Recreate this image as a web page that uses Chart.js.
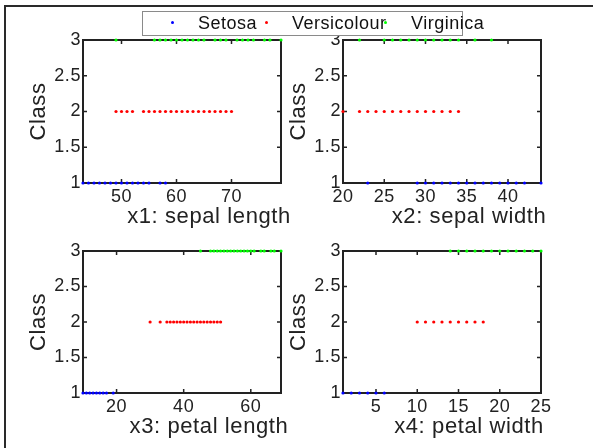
<!DOCTYPE html>
<html><head><meta charset="utf-8">
<script src="https://cdn.jsdelivr.net/npm/chart.js@4.4.0/dist/chart.umd.min.js"></script>
<style>
html,body{margin:0;padding:0;background:#fff;}
#wrap{position:relative;width:593px;height:448px;overflow:hidden;background:#fff;font-family:"Liberation Sans",Arial,sans-serif;}
#frame{position:absolute;left:4px;top:5px;width:600px;height:460px;border-left:2px solid #2a2a2a;border-top:2px solid #2a2a2a;}
canvas{position:absolute;left:0;top:0;}
#legendBox{position:absolute;left:142px;top:11px;width:319px;height:23px;border:1px solid #8a8a8a;background:#fff;z-index:5;}
.lt{position:absolute;top:11px;height:24px;line-height:24px;font-size:18px;letter-spacing:0.5px;color:#111;z-index:6;white-space:nowrap;}
.ld{position:absolute;top:21px;width:3px;height:3px;border-radius:50%;z-index:7;}
</style>
</head><body>
<div id="wrap">
  <div id="frame"></div>
  <canvas id="c1" width="593" height="448"></canvas>
  <canvas id="c2" width="593" height="448"></canvas>
  <canvas id="c3" width="593" height="448"></canvas>
  <canvas id="c4" width="593" height="448"></canvas>
  <div id="legendBox"></div>
  <div id="legendItems"></div>
</div>
<script>
// ---- data (Iris, values in mm) ----
const classNames = ['Setosa', 'Versicolour', 'Virginica'];
const classValues = [1, 2, 3];
const featureLabels = ['x1: sepal length', 'x2: sepal width', 'x3: petal length', 'x4: petal width'];
const yTickValues = [1, 1.5, 2, 2.5, 3];
const x1Ticks = [50, 60, 70];
const x2Ticks = [20, 25, 30, 35, 40];
const x3Ticks = [20, 40, 60];
const x4Ticks = [5, 10, 15, 20, 25];
const x1Range = [43, 79];
const x2Range = [20, 44];
const x3Range = [10, 69];
const x4Range = [1, 25];

const setosaSepalLength = [43, 44, 45, 46, 47, 48, 49, 50, 51, 52, 53, 54, 55, 57, 58];
const versicolourSepalLength = [49, 50, 51, 52, 54, 55, 56, 57, 58, 59, 60, 61, 62, 63, 64, 65, 66, 67, 68, 69, 70];
const virginicaSepalLength = [49, 56, 57, 58, 59, 60, 61, 62, 63, 64, 65, 67, 68, 69, 71, 72, 73, 74, 76, 77, 79];

const setosaSepalWidth = [23, 29, 30, 31, 32, 33, 34, 35, 36, 37, 38, 39, 40, 41, 42, 44];
const versicolourSepalWidth = [20, 22, 23, 24, 25, 26, 27, 28, 29, 30, 31, 32, 33, 34];
const virginicaSepalWidth = [22, 25, 26, 27, 28, 29, 30, 31, 32, 33, 34, 36, 38];

const setosaPetalLength = [10, 11, 12, 13, 14, 15, 16, 17, 19];
const versicolourPetalLength = [30, 33, 35, 36, 37, 38, 39, 40, 41, 42, 43, 44, 45, 46, 47, 48, 49, 50, 51];
const virginicaPetalLength = [45, 48, 49, 50, 51, 52, 53, 54, 55, 56, 57, 58, 59, 60, 61, 63, 64, 66, 67, 69];

const setosaPetalWidth = [1, 2, 3, 4, 5, 6];
const versicolourPetalWidth = [10, 11, 12, 13, 14, 15, 16, 17, 18];
const virginicaPetalWidth = [14, 15, 16, 17, 18, 19, 20, 21, 22, 23, 24, 25];

// ---- styles ----
const classColors = ['#0000ff', '#ff0000', '#00ff00'];
const ink = '#222222';
const FONT = '"Liberation Sans", Arial, Helvetica, sans-serif';
Chart.defaults.font.family = FONT;

const mlPlugin = {
  id: 'mlbox',
  beforeDraw(chart) {
    try { chart.ctx.letterSpacing = '0.6px'; } catch (e) {}
  },
  beforeDatasetsDraw(chart) {
    const { ctx, chartArea: a, scales: { x, y } } = chart;
    ctx.save();
    ctx.strokeStyle = ink;
    ctx.lineWidth = 1.5;
    const tl = 4;
    ctx.beginPath();
    x.ticks.forEach(t => {
      const px = x.getPixelForValue(t.value);
      ctx.moveTo(px, a.bottom); ctx.lineTo(px, a.bottom - tl);
      ctx.moveTo(px, a.top); ctx.lineTo(px, a.top + tl);
    });
    y.ticks.forEach(t => {
      const py = y.getPixelForValue(t.value);
      ctx.moveTo(a.left, py); ctx.lineTo(a.left + tl, py);
      ctx.moveTo(a.right, py); ctx.lineTo(a.right - tl, py);
    });
    ctx.stroke();
    ctx.lineWidth = 2;
    ctx.strokeRect(a.left, a.top, a.right - a.left, a.bottom - a.top);
    ctx.restore();
  },
  afterDraw(chart, args, opts) {
    const { ctx, chartArea: a } = chart;
    ctx.save();
    try { ctx.letterSpacing = '0.6px'; } catch (e) {}
    ctx.font = '22px ' + FONT;
    ctx.fillStyle = ink;
    ctx.textAlign = 'center';
    ctx.textBaseline = 'middle';
    ctx.fillText(opts.text, a.left + opts.dx, a.bottom + opts.dy);
    ctx.restore();
  }
};

const YW = 70, XH = 30, W = 593, H = 448;

function makePlot(id, area, range, xTicks, seriesList, label) {
  const datasets = seriesList.map((vals, i) => ({
    label: classNames[i],
    data: vals.map(v => ({ x: v, y: classValues[i] })),
    backgroundColor: classColors[i],
    borderColor: classColors[i],
    borderWidth: 0,
    pointRadius: 1.6,
    pointHoverRadius: 1.6,
    clip: false
  }));
  return new Chart(document.getElementById(id), {
    type: 'scatter',
    data: { datasets },
    plugins: [mlPlugin],
    options: {
      responsive: false,
      animation: false,
      devicePixelRatio: 1,
      events: [],
      layout: { padding: { left: area.L - YW, top: area.T, right: W - area.R, bottom: H - area.B - XH } },
      plugins: {
        legend: { display: false },
        tooltip: { enabled: false },
        mlbox: { text: label, dx: 126, dy: 34 }
      },
      scales: {
        x: {
          type: 'linear', min: range[0], max: range[1],
          afterBuildTicks: s => { s.ticks = xTicks.map(v => ({ value: v })); },
          afterFit: s => { s.height = XH; },
          grid: { display: false, drawTicks: false, tickLength: 0 },
          border: { display: false },
          ticks: { padding: 3, color: ink, font: { size: 18 }, maxRotation: 0, autoSkip: false, callback: v => String(v) }
        },
        y: {
          type: 'linear', min: 1, max: 3,
          afterBuildTicks: s => { s.ticks = yTickValues.map(v => ({ value: v })); },
          afterFit: s => { s.width = YW; },
          grid: { display: false, drawTicks: false, tickLength: 0 },
          border: { display: false },
          ticks: { padding: 2, color: ink, font: { size: 18 }, autoSkip: false, callback: v => String(v) },
          title: { display: true, text: 'Class', color: ink, font: { size: 22 }, padding: { top: 13, bottom: 0 } }
        }
      }
    }
  });
}

makePlot('c1', { L: 83, R: 281, T: 40, B: 183 }, x1Range, x1Ticks,
  [setosaSepalLength, versicolourSepalLength, virginicaSepalLength], featureLabels[0]);
makePlot('c2', { L: 343, R: 541, T: 40, B: 183 }, x2Range, x2Ticks,
  [setosaSepalWidth, versicolourSepalWidth, virginicaSepalWidth], featureLabels[1]);
makePlot('c3', { L: 83, R: 281, T: 251, B: 393 }, x3Range, x3Ticks,
  [setosaPetalLength, versicolourPetalLength, virginicaPetalLength], featureLabels[2]);
makePlot('c4', { L: 343, R: 541, T: 251, B: 393 }, x4Range, x4Ticks,
  [setosaPetalWidth, versicolourPetalWidth, virginicaPetalWidth], featureLabels[3]);

// ---- legend (HTML, on top like MATLAB) ----
const legendDotX = [171, 265, 384];
const legendTextX = [198, 292, 411];
const li = document.getElementById('legendItems');
classNames.forEach((name, i) => {
  const d = document.createElement('div');
  d.className = 'ld';
  d.style.left = legendDotX[i] + 'px';
  d.style.background = classColors[i];
  li.appendChild(d);
  const t = document.createElement('div');
  t.className = 'lt';
  t.style.left = legendTextX[i] + 'px';
  t.textContent = name;
  li.appendChild(t);
});
</script>
</body></html>
